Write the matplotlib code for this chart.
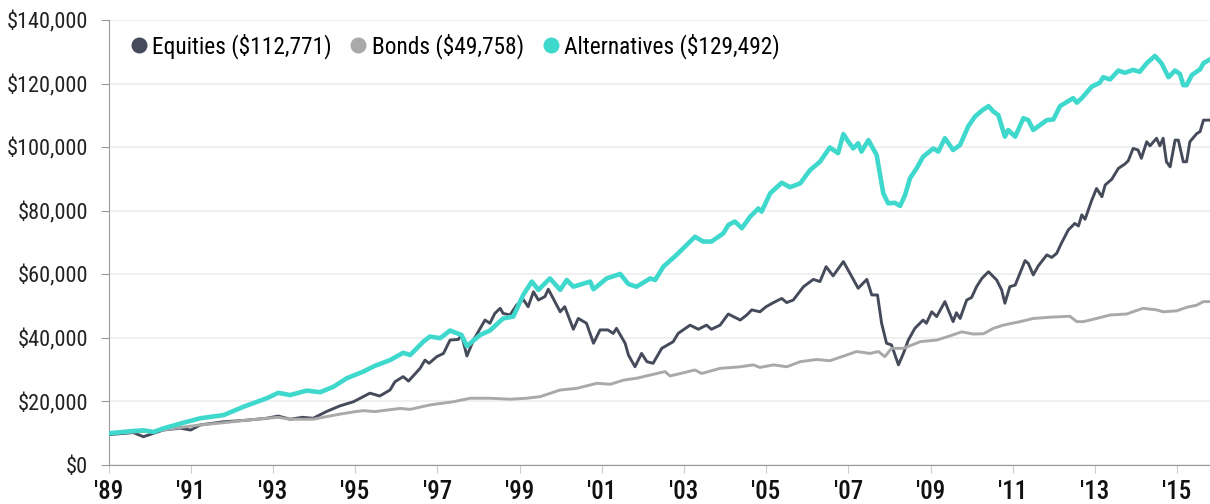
import matplotlib
matplotlib.use("Agg")
import matplotlib.pyplot as plt
from matplotlib.ticker import FuncFormatter
from matplotlib.lines import Line2D

# --- data (values in $ thousands) ---
eq_t = [1989.04, 1989.6, 1989.85, 1990.1, 1990.33, 1990.74, 1991.0, 1991.23, 1991.8, 1992.28,
        1992.85, 1993.13, 1993.42, 1993.72, 1993.98, 1994.3, 1994.63, 1994.96, 1995.2, 1995.36,
        1995.6, 1995.85, 1995.97, 1996.17, 1996.3, 1996.58, 1996.7, 1996.8, 1996.99, 1997.15,
        1997.31, 1997.51, 1997.59, 1997.72, 1997.88, 1998.16, 1998.28, 1998.4, 1998.53, 1998.6,
        1998.77, 1998.93, 1999.09, 1999.21, 1999.34, 1999.46, 1999.62, 1999.7, 1999.82, 1999.99,
        2000.1, 2000.31, 2000.43, 2000.63, 2000.8, 2000.96, 2001.15, 2001.28, 2001.36, 2001.57,
        2001.65, 2001.81, 2001.97, 2002.1, 2002.25, 2002.46, 2002.74, 2002.86, 2003.15, 2003.35,
        2003.55, 2003.67, 2003.88, 2004.08, 2004.2, 2004.37, 2004.53, 2004.65, 2004.85, 2005.0,
        2005.18, 2005.38, 2005.5, 2005.66, 2005.91, 2006.15, 2006.31, 2006.46, 2006.63, 2006.88,
        2007.04, 2007.24, 2007.45, 2007.57, 2007.71, 2007.81, 2007.93, 2008.05, 2008.22, 2008.34,
        2008.46, 2008.62, 2008.82, 2008.9, 2009.03, 2009.15, 2009.35, 2009.55, 2009.63, 2009.72,
        2009.88, 2010.0, 2010.12, 2010.25, 2010.41, 2010.61, 2010.73, 2010.81, 2010.93, 2011.06,
        2011.3, 2011.38, 2011.5, 2011.62, 2011.83, 2011.95, 2012.07, 2012.19, 2012.35, 2012.51,
        2012.6, 2012.68, 2012.76, 2012.92, 2013.04, 2013.17, 2013.25, 2013.41, 2013.57, 2013.73,
        2013.81, 2013.93, 2014.05, 2014.13, 2014.26, 2014.34, 2014.5, 2014.58, 2014.66, 2014.74,
        2014.83, 2014.95, 2015.03, 2015.15, 2015.23, 2015.31, 2015.48, 2015.56, 2015.64, 2015.8]
eq_v = [9.6, 10.2, 8.9, 10.0, 11.0, 11.6, 11.0, 12.6, 13.6, 14.0,
        14.7, 15.4, 14.4, 15.0, 14.7, 16.8, 18.6, 19.9, 21.5, 22.6,
        21.7, 23.6, 26.2, 27.8, 26.4, 30.4, 33.0, 32.0, 34.1, 35.1,
        39.3, 39.5, 40.9, 34.3, 39.3, 45.6, 44.6, 47.7, 49.3, 47.7,
        47.2, 50.3, 52.1, 49.8, 54.5, 51.9, 53.0, 55.3, 52.4, 48.2,
        49.8, 42.7, 46.1, 44.6, 38.3, 42.5, 42.5, 41.4, 43.0, 38.3,
        34.6, 30.9, 35.1, 32.5, 32.0, 36.7, 38.8, 41.4, 44.0, 42.7,
        44.0, 42.7, 44.0, 47.5, 46.7, 45.6, 47.2, 48.8, 48.2, 49.8,
        51.1, 52.4, 51.1, 51.9, 56.1, 58.4, 57.7, 62.4, 59.5, 64.0,
        60.3, 55.6, 58.4, 53.5, 53.5, 44.6, 38.3, 37.8, 31.5, 35.1,
        39.3, 43.0, 45.6, 44.6, 48.2, 46.7, 51.4, 45.1, 47.9, 46.1,
        51.9, 52.7, 56.1, 58.7, 60.8, 58.2, 55.1, 50.9, 56.1, 56.6,
        64.3, 63.4, 59.8, 62.6, 66.1, 65.3, 66.6, 69.9, 73.9, 76.0,
        75.2, 78.7, 77.3, 83.2, 87.0, 84.4, 88.1, 89.9, 93.3, 94.7,
        95.7, 99.6, 99.1, 96.5, 101.7, 100.4, 102.8, 100.4, 102.8, 95.4,
        93.8, 102.2, 102.2, 95.4, 95.4, 101.7, 104.3, 104.9, 108.5, 108.5]

bd_t = [1989.04, 1989.6, 1990.1, 1990.74, 1991.23, 1991.8, 1992.28, 1992.85, 1993.13, 1993.42,
        1993.98, 1994.3, 1994.63, 1994.96, 1995.2, 1995.48, 1996.1, 1996.34, 1996.82, 1997.39,
        1997.8, 1998.28, 1998.77, 1999.17, 1999.5, 1999.99, 2000.39, 2000.88, 2001.21, 2001.53,
        2001.85, 2002.18, 2002.54, 2002.66, 2003.27, 2003.43, 2003.88, 2004.37, 2004.69, 2004.85,
        2005.18, 2005.5, 2005.83, 2006.23, 2006.55, 2006.96, 2007.2, 2007.53, 2007.73, 2007.89,
        2008.05, 2008.34, 2008.75, 2008.98, 2009.15, 2009.47, 2009.76, 2010.04, 2010.29, 2010.53,
        2010.77, 2011.18, 2011.5, 2011.91, 2012.23, 2012.39, 2012.56, 2012.72, 2013.04, 2013.37,
        2013.77, 2014.17, 2014.5, 2014.66, 2014.99, 2015.23, 2015.48, 2015.64, 2015.8]
bd_v = [10.0, 10.4, 10.6, 11.8, 12.6, 13.3, 14.0, 14.7, 15.0, 14.4,
        14.4, 15.2, 16.0, 16.7, 17.1, 16.8, 17.8, 17.5, 18.9, 19.9,
        21.0, 21.0, 20.7, 21.0, 21.5, 23.6, 24.1, 25.7, 25.4, 26.7,
        27.3, 28.3, 29.4, 28.0, 29.9, 28.8, 30.4, 30.9, 31.5, 30.7,
        31.5, 30.9, 32.5, 33.2, 32.8, 34.6, 35.7, 35.1, 35.7, 34.1,
        36.7, 36.7, 38.8, 39.1, 39.3, 40.6, 41.9, 41.2, 41.3, 43.0,
        44.0, 45.1, 46.1, 46.5, 46.7, 46.8, 45.1, 45.1, 46.1, 47.2,
        47.5, 49.3, 48.8, 48.2, 48.5, 49.6, 50.3, 51.4, 51.4]

alt_t = [1989.04, 1989.6, 1989.85, 1990.1, 1990.33, 1990.74, 1991.23, 1991.8, 1992.28, 1992.85,
         1993.13, 1993.42, 1993.82, 1994.15, 1994.47, 1994.8, 1995.2, 1995.48, 1995.85, 1996.17,
         1996.34, 1996.66, 1996.82, 1997.07, 1997.31, 1997.59, 1997.72, 1998.04, 1998.28, 1998.6,
         1998.85, 1999.09, 1999.3, 1999.46, 1999.74, 1999.99, 2000.15, 2000.31, 2000.72, 2000.8,
         2001.12, 2001.45, 2001.65, 2001.85, 2002.18, 2002.3, 2002.5, 2002.82, 2003.15, 2003.27,
         2003.47, 2003.67, 2003.96, 2004.08, 2004.24, 2004.41, 2004.61, 2004.81, 2004.89, 2005.1,
         2005.38, 2005.58, 2005.83, 2006.07, 2006.31, 2006.55, 2006.75, 2006.88, 2007.0, 2007.12,
         2007.24, 2007.32, 2007.49, 2007.69, 2007.85, 2007.97, 2008.13, 2008.26, 2008.38, 2008.5,
         2008.66, 2008.82, 2009.07, 2009.19, 2009.35, 2009.55, 2009.72, 2009.92, 2010.08, 2010.25,
         2010.41, 2010.53, 2010.65, 2010.81, 2010.89, 2011.06, 2011.26, 2011.38, 2011.5, 2011.83,
         2011.99, 2012.15, 2012.47, 2012.56, 2012.68, 2012.92, 2013.12, 2013.2, 2013.37, 2013.57,
         2013.73, 2013.93, 2014.09, 2014.26, 2014.46, 2014.62, 2014.79, 2014.95, 2015.07, 2015.15,
         2015.23, 2015.36, 2015.56, 2015.64, 2015.8]
alt_v = [10.0, 10.7, 10.9, 10.4, 11.5, 13.0, 14.7, 15.7, 18.3, 21.0,
         22.7, 22.0, 23.4, 22.9, 24.6, 27.3, 29.4, 31.2, 33.0, 35.3,
         34.6, 38.8, 40.4, 39.9, 42.3, 40.9, 37.4, 40.9, 42.3, 46.1,
         46.7, 53.5, 57.7, 55.1, 58.7, 55.1, 58.2, 56.1, 57.7, 55.3,
         58.7, 60.1, 56.9, 56.1, 58.7, 58.2, 62.4, 66.1, 70.3, 71.8,
         70.3, 70.3, 72.9, 75.5, 76.6, 74.5, 78.1, 80.7, 79.7, 85.5,
         88.8, 87.4, 88.6, 92.8, 95.4, 99.9, 98.1, 104.1, 101.7, 99.6,
         101.2, 98.6, 102.2, 97.5, 85.5, 82.3, 82.5, 81.5, 84.9, 90.2,
         93.3, 97.0, 99.6, 98.6, 102.8, 99.1, 100.7, 106.6, 109.6, 111.5,
         112.9, 111.2, 110.1, 103.3, 105.4, 103.3, 109.1, 108.5, 105.4, 108.5,
         108.7, 112.9, 115.4, 114.0, 115.4, 119.0, 120.3, 122.0, 121.3, 124.1,
         123.4, 124.3, 123.7, 126.4, 128.7, 126.4, 122.0, 124.1, 123.0, 119.5,
         119.5, 122.7, 124.5, 126.4, 127.6]

labels = ["Equities ($112,771)", "Bonds ($49,758)", "Alternatives ($129,492)"]
colors = ["#464b5b", "#a9a9a9", "#3fd8cd"]
year_ticks = list(range(1989, 2016, 2))

plt.rcParams['font.family'] = ['Roboto Condensed', 'Barlow Semi Condensed', 'DejaVu Sans']
plt.rcParams['font.stretch'] = 'condensed'

fig = plt.figure(figsize=(12.1, 5.04), dpi=100)
ax = fig.add_axes([108.5 / 1210, 1 - 465 / 504, 1 - 108.5 / 1210, 445 / 504])

k = 1000
ax.plot(eq_t, [v * k for v in eq_v], color=colors[0], lw=2.1, zorder=3)
ax.plot(bd_t, [v * k for v in bd_v], color=colors[1], lw=2.1, zorder=3)
ax.plot(alt_t, [v * k for v in alt_v], color=colors[2], lw=3.3, zorder=4)

ax.set_xlim(1989, 2015.8)
ax.set_ylim(0, 140000)
ax.set_yticks(range(0, 140001, 20000))
ax.yaxis.set_major_formatter(FuncFormatter(lambda v, p: "${:,.0f}".format(v)))
ax.set_xticks(year_ticks)
ax.set_xticklabels(["'" + str(y)[2:] for y in year_ticks])

ax.grid(axis='y', color='#eeeeee', lw=1.2, zorder=0)
for s in ['top', 'right']:
    ax.spines[s].set_visible(False)
ax.spines['left'].set_color('#999999')
ax.spines['bottom'].set_color('#999999')
ax.tick_params(axis='y', length=5.8, color='#999999', labelsize=16, labelcolor='#222222', pad=9)
ax.tick_params(axis='x', length=5.8, color='#cccccc', labelsize=18, labelcolor='#111111', pad=5)
for t in ax.get_xticklabels():
    t.set_fontweight('medium')

handles = [Line2D([], [], ls='', marker='o', ms=10.5, color=c) for c in colors]
ax.legend(handles, labels, loc='center left', bbox_to_anchor=((130.4 - 108.5) / 1101.5, (465 - 46) / 445),
          ncol=3, frameon=False, borderpad=0, borderaxespad=0, prop={'size': 16.8},
          handletextpad=0.22, columnspacing=0.8, handlelength=0.7)

fig.savefig("out.png", dpi=100)
